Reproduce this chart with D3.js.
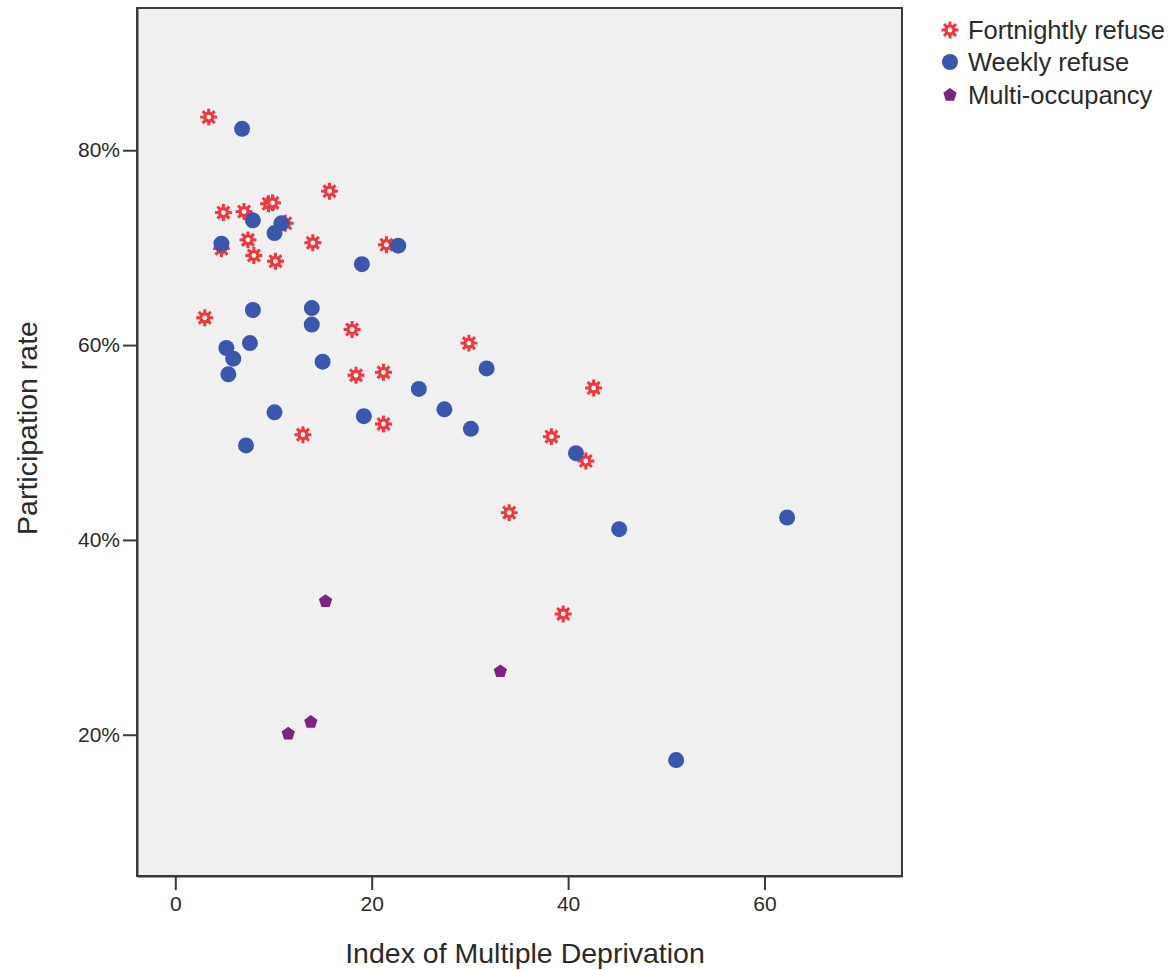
<!DOCTYPE html>
<html>
<head>
<meta charset="utf-8">
<script src="https://cdn.jsdelivr.net/npm/d3@7"></script>
<style>
  html, body { margin: 0; padding: 0; background: #ffffff; }
  svg { display: block; font-family: "Liberation Sans", Arial, sans-serif; }
</style>
</head>
<body>
<svg id="chart" width="1175" height="970"></svg>
<script>
// Index of Multiple Deprivation (x) vs participation rate in % (y)
const fortnightlyIMD  = [3.4, 15.7, 4.9, 7.0, 9.5, 9.9, 11.2, 7.4, 4.7, 8.0, 10.2, 14.0, 21.5, 3.0, 18.0, 18.4, 21.2, 21.2, 13.0, 29.9, 42.6, 38.3, 41.8, 34.0, 39.5];
const fortnightlyRate = [83.4, 75.8, 73.6, 73.7, 74.5, 74.6, 72.5, 70.8, 69.9, 69.2, 68.6, 70.5, 70.3, 62.8, 61.6, 56.9, 57.2, 51.9, 50.8, 60.2, 55.6, 50.6, 48.1, 42.8, 32.4];

const weeklyIMD  = [6.8, 7.9, 10.8, 10.1, 4.7, 22.7, 19.0, 7.9, 13.9, 13.9, 5.2, 7.6, 5.9, 5.4, 15.0, 24.8, 10.1, 19.2, 7.2, 31.7, 27.4, 30.1, 40.8, 45.2, 62.3, 51.0];
const weeklyRate = [82.2, 72.8, 72.5, 71.5, 70.4, 70.2, 68.3, 63.6, 63.8, 62.1, 59.7, 60.2, 58.6, 57.0, 58.3, 55.5, 53.1, 52.7, 49.7, 57.6, 53.4, 51.4, 48.9, 41.1, 42.3, 17.4];

const multiIMD  = [15.3, 33.1, 13.8, 11.5];
const multiRate = [33.7, 26.5, 21.3, 20.1];

const xTicks = [0, 20, 40, 60];
const yTicks = [20, 40, 60, 80];

const seriesNames = ["Fortnightly refuse", "Weekly refuse", "Multi-occupancy"];

const colors = { fortnightly: "#f2363c", weekly: "#3b57ad", multi: "#7c2380" };

const svg = d3.select("#chart");
const plot = { left: 137, right: 902, top: 8, bottom: 876 };

const x = d3.scaleLinear().domain([-3.9, 74]).range([plot.left, plot.right]);
const y = d3.scaleLinear().domain([5.5, 94.6]).range([plot.bottom, plot.top]);

// plot background and frame
svg.append("rect")
  .attr("x", plot.left).attr("y", plot.top)
  .attr("width", plot.right - plot.left).attr("height", plot.bottom - plot.top)
  .attr("fill", "#f0f0f0")
  .attr("stroke", "#3a3a3a").attr("stroke-width", 2);

// axes
const xAxis = d3.axisBottom(x).tickValues(xTicks).tickSize(14).tickSizeOuter(0).tickPadding(6).tickFormat(d3.format("d"));
const yAxis = d3.axisLeft(y).tickValues(yTicks).tickSize(14).tickSizeOuter(0).tickPadding(3).tickFormat(d => d + "%");

const gx = svg.append("g").attr("transform", `translate(0,${plot.bottom})`).call(xAxis);
const gy = svg.append("g").attr("transform", `translate(${plot.left},0)`).call(yAxis);

[gx, gy].forEach(g => {
  g.select(".domain").attr("stroke", "#3a3a3a").attr("stroke-width", 2);
  g.selectAll(".tick line").attr("stroke", "#3a3a3a").attr("stroke-width", 2);
  g.selectAll(".tick text").attr("fill", "#2a2a2a").style("font-size", "21px");
});

// axis titles
svg.append("text")
  .attr("x", 525)
  .attr("y", 963)
  .attr("text-anchor", "middle")
  .attr("fill", "#2a2a2a")
  .style("font-size", "28.5px")
  .text("Index of Multiple Deprivation");

svg.append("text")
  .attr("transform", "translate(37,428) rotate(-90)")
  .attr("text-anchor", "middle")
  .attr("fill", "#2a2a2a")
  .style("font-size", "28.5px")
  .text("Participation rate");

// marker shapes
function gearPath(rOut, rIn) {
  const pts = [];
  const teeth = 8;
  for (let i = 0; i < teeth; i++) {
    const a = (i * 2 * Math.PI) / teeth;
    const tw = 0.17, bw = 0.27;
    pts.push([rIn * Math.sin(a - bw), -rIn * Math.cos(a - bw)]);
    pts.push([rOut * Math.sin(a - tw), -rOut * Math.cos(a - tw)]);
    pts.push([rOut * Math.sin(a + tw), -rOut * Math.cos(a + tw)]);
    pts.push([rIn * Math.sin(a + bw), -rIn * Math.cos(a + bw)]);
  }
  return "M" + pts.map(p => p[0].toFixed(2) + "," + p[1].toFixed(2)).join("L") + "Z";
}
function pentagonPath(r) {
  const pts = d3.range(5).map(i => {
    const a = (i * 2 * Math.PI) / 5;
    return [r * Math.sin(a), -r * Math.cos(a)];
  });
  return "M" + pts.map(p => p[0].toFixed(2) + "," + p[1].toFixed(2)).join("L") + "Z";
}
const gear = gearPath(8.6, 5.6);
const pentagon = pentagonPath(7);

function drawGear(g, cx, cy) {
  const m = g.append("g").attr("transform", `translate(${cx},${cy})`);
  m.append("path").attr("d", gear).attr("fill", colors.fortnightly);
  m.append("circle").attr("r", 2.4).attr("fill", "#ffffff");
}

// points
const gF = svg.append("g");
fortnightlyIMD.forEach((v, i) => drawGear(gF, x(v), y(fortnightlyRate[i])));

svg.append("g").selectAll("circle")
  .data(weeklyIMD.map((v, i) => [v, weeklyRate[i]]))
  .join("circle")
  .attr("cx", d => x(d[0])).attr("cy", d => y(d[1]))
  .attr("r", 8).attr("fill", colors.weekly);

svg.append("g").selectAll("path")
  .data(multiIMD.map((v, i) => [v, multiRate[i]]))
  .join("path")
  .attr("d", pentagon)
  .attr("transform", d => `translate(${x(d[0])},${y(d[1])})`)
  .attr("fill", colors.multi);

// legend
const legend = svg.append("g");
const rows = [30, 62, 95];
drawGear(legend, 950, rows[0]);
legend.append("circle").attr("cx", 950).attr("cy", rows[1]).attr("r", 8).attr("fill", colors.weekly);
legend.append("path").attr("d", pentagon).attr("transform", `translate(950,${rows[2]})`).attr("fill", colors.multi);
seriesNames.forEach((name, i) => {
  legend.append("text")
    .attr("x", 968).attr("y", rows[i] + 9)
    .attr("fill", "#2a2a2a")
    .style("font-size", "25.5px")
    .text(name);
});
</script>
</body>
</html>
